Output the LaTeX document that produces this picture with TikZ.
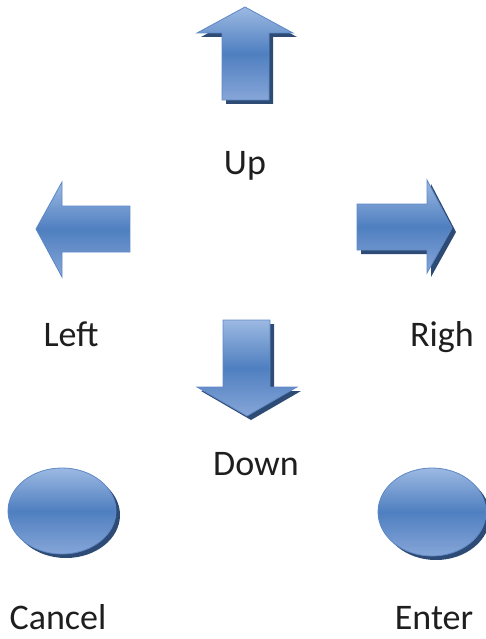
\documentclass[tikz,border=0pt]{standalone}
\usepackage{fontspec}
\setmainfont{Carlito}
\definecolor{btop}{HTML}{9CB9E2}
\definecolor{bmid}{HTML}{4F7FC0}
\definecolor{bbot}{HTML}{86A6D8}
\definecolor{bline}{HTML}{5E88C6}
\definecolor{shadowc}{HTML}{2E4B75}
\definecolor{txt}{HTML}{1E1E1E}
\begin{document}
\begin{tikzpicture}[x=1pt,y=-1pt,
  btn/.style={draw=bline, line width=0.8pt, line join=miter,
    top color=btop, bottom color=bbot, middle color=bmid},
  shd/.style={preaction={fill=shadowc, transform canvas={shift={(4pt,-4pt)}}}},
  lbl/.style={anchor=base, text=txt, inner sep=0pt, font=\fontsize{36}{40}\selectfont}]
\useasboundingbox (0,0) rectangle (486,639);
% Up arrow
\path[btn,shd] (245,7) -- (293,33) -- (269,33) -- (269,100) -- (222,100) -- (222,33) -- (197,33) -- cycle;
% Left arrow
\path[btn] (36,229) -- (62,182) -- (62,206) -- (130,206) -- (130,252) -- (62,252) -- (62,277) -- cycle;
% Right arrow
\path[btn,shd] (452,228) -- (427,180) -- (427,204) -- (357,204) -- (357,250) -- (427,250) -- (427,273) -- cycle;
% Down arrow
\path[btn,shd] (247,416) -- (297,387) -- (270,387) -- (270,320) -- (223,320) -- (223,387) -- (197,387) -- cycle;
% Cancel and Enter buttons
\path[btn,shd] (62,511) ellipse [x radius=54, y radius=43];
\path[btn,shd] (432,512) ellipse [x radius=54, y radius=44];
% Labels
\node[lbl] (up) at (245,175) {Up};
\node[lbl] (left) at (71,346) {Left};
\node[lbl] (righ) at (442,346) {Righ};
\node[lbl] (down) at (256,475) {Down};
\node[lbl] (cancel) at (58,629) {Cancel};
\node[lbl] (enter) at (434,629) {Enter};
\end{tikzpicture}
\end{document}
